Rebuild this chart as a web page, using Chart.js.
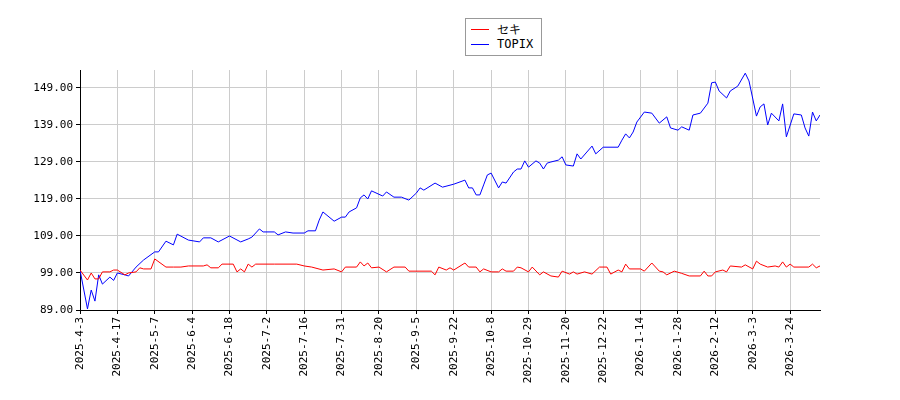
<!DOCTYPE html>
<html>
<head>
<meta charset="utf-8">
<script src="https://cdn.jsdelivr.net/npm/chart.js@4"></script>
<style>
  body { margin: 0; background: #fff; }
  #wrap { position: relative; width: 900px; height: 400px; }
  #legend { position: absolute; left: 465px; top: 18px; height: 38px; border: 1px solid #999;
    background: #fff; font: 12px "DejaVu Sans Mono", monospace; box-sizing: border-box; padding: 3px 8px 3px 5px; white-space: nowrap; }
  #legend div { height: 15px; line-height: 15px; white-space: nowrap; }
  #legend span { display: inline-block; width: 18px; height: 0; border-top: 1.5px solid; vertical-align: middle; margin-right: 8px; }
</style>
</head>
<body>
<div id="wrap">
  <canvas id="c" width="900" height="400"></canvas>
  <div id="legend">
    <div><span style="border-color:#ff0000"></span>セキ</div>
    <div><span style="border-color:#0000ff"></span>TOPIX</div>
  </div>
</div>
<script>
    const dateLabels = ["2025-4-3", "2025-4-17", "2025-5-7", "2025-6-4", "2025-6-18", "2025-7-2", "2025-7-16",
        "2025-7-31", "2025-8-20", "2025-9-5", "2025-9-22", "2025-10-8", "2025-10-29", "2025-11-20",
        "2025-12-22", "2026-1-14", "2026-1-28", "2026-2-12", "2026-3-3", "2026-3-24"];
    const yTicks = [89, 99, 109, 119, 129, 139, 149];

    // trading-day index and value
    const sekiDay = [0,2,3,4,5,6,8,9,10,12,13,15,16,17,19,20,23,25,27,29,33,34,35,37,38,41,42,43,44,45,
        46,47,52,58,60,62,65,68,70,71,74,75,76,77,78,80,82,84,87,88,94,95,96,98,99,100,103,104,106,107,
        108,110,112,113,114,116,117,118,120,121,123,124,126,128,129,131,132,133,135,137,139,141,142,144,145,146,147,150,151,153,
        155,156,157,159,161,163,166,167,168,169,170,172,173,174,177,178,180,181,182,184,186,187,188,189,190,191,195,196,197,198];
    const sekiVal = [99.8,97.1,99,97.4,97.4,99.3,99.3,99.8,99.8,98.5,99,99.3,100.4,100.1,100.1,102.8,100.6,100.6,100.6,100.9,
        100.9,101.2,100.4,100.4,101.4,101.4,99.3,100.1,99.3,101.4,100.6,101.4,101.4,101.4,100.9,100.6,99.8,100.1,99.3,100.6,
        100.6,102,100.9,101.7,100.4,100.6,99.3,100.6,100.6,99.5,99.5,98.5,100.6,99.8,100.4,99.8,101.7,100.6,100.6,99.3,
        100.1,99.3,99.3,100.1,99.5,99.5,100.6,100.4,99.3,100.6,98.5,99.3,98.2,97.9,99.5,98.7,99.3,98.7,99.3,98.7,
        100.6,100.6,98.7,99.8,99.3,101.4,100.1,100.1,99.5,101.7,99.5,99.3,98.5,99.5,98.9,98.2,98.2,99.5,98.2,98.2,
        99.3,99.8,99.3,100.9,100.6,101.2,100.1,102.2,101.4,100.6,100.9,100.6,102,100.6,101.4,100.6,100.6,101.4,100.4,100.9];

    const topixDay = [0,2,3,4,5,6,8,9,10,12,13,15,17,20,21,23,25,26,29,32,33,35,37,40,43,45,46,48,49,52,
        53,55,57,60,61,63,64,65,68,70,71,72,74,75,76,77,78,81,82,84,86,88,90,91,92,95,97,100,103,104,
        105,106,107,108,109,110,112,113,114,116,117,118,119,120,122,123,124,125,126,128,129,130,132,133,134,137,138,140,144,145,
        146,147,148,149,151,153,155,157,158,160,161,163,164,166,168,169,170,171,173,174,176,178,179,181,182,183,184,185,187,188,
        189,191,193,194,195,196,197,198];
    const topixVal = [99.8,89.3,94.4,91.4,98.5,96,97.9,97,99,98.5,98.2,100.6,102.5,104.7,104.7,107.6,106.6,109.5,107.9,107.4,
        108.5,108.5,107.4,109,107.4,108.2,108.7,110.9,110.1,110.1,109.3,110.1,109.8,109.8,110.4,110.4,113.3,115.5,113,114.1,
        114.1,115.5,116.6,119.3,120.1,119,121.2,119.8,120.9,119.5,119.5,118.7,120.6,122,121.4,123.3,122.2,123,124.1,122,
        122,120.1,120.1,122.8,125.5,126,122,123.6,123.3,126.3,127.1,127.1,129.3,127.6,129.3,128.7,127.1,128.7,129,129.5,
        130.4,128.2,127.9,131.2,129.8,133.3,131.2,133,133,134.9,136.6,135.5,137.1,139.8,142.5,142.2,139.5,141.2,138.2,137.6,
        138.5,137.6,141.7,142.2,144.9,150.4,150.6,148.2,146.3,148.2,149.5,153,150.9,141.4,143.9,144.7,139,142.2,140.1,144.7,
        135.8,142,141.7,138.2,136,142.5,140.1,141.7];

    function pts(days, vals) {
        return days.map((d, i) => ({ x: d, y: vals[i] }));
    }

    const mono = { family: "'DejaVu Sans Mono', monospace", size: 11 };

    new Chart(document.getElementById("c"), {
        type: "line",
        data: {
            datasets: [
                { label: "セキ", data: pts(sekiDay, sekiVal), borderColor: "#ff0000", borderWidth: 1, pointRadius: 0, tension: 0 },
                { label: "TOPIX", data: pts(topixDay, topixVal), borderColor: "#0000ff", borderWidth: 1, pointRadius: 0, tension: 0 }
            ]
        },
        options: {
            responsive: false,
            animation: false,
            layout: { padding: { top: 70, right: 80, left: 0, bottom: 0 } },
            plugins: { legend: { display: false }, tooltip: { enabled: false } },
            scales: {
                x: {
                    type: "linear", min: 0, max: 198,
                    afterBuildTicks: ax => { ax.ticks = dateLabels.map((_, i) => ({ value: i * 10 })); },
                    afterFit: ax => { ax.height = 90; },
                    ticks: {
                        color: "#000", font: mono, maxRotation: 90, minRotation: 90, autoSkip: false,
                        callback: v => dateLabels[v / 10]
                    },
                    grid: { color: "#cccccc", tickColor: "#000", tickLength: 4 },
                    border: { color: "#000", width: 1 }
                },
                y: {
                    min: 89, max: 153.86,
                    afterBuildTicks: ax => { ax.ticks = yTicks.map(v => ({ value: v })); },
                    afterFit: ax => { ax.width = 80; },
                    ticks: { color: "#000", font: mono, callback: v => v.toFixed(2) },
                    grid: { color: "#cccccc", tickColor: "#000", tickLength: 4 },
                    border: { color: "#000", width: 1 }
                }
            }
        }
    });
</script>
</body>
</html>
